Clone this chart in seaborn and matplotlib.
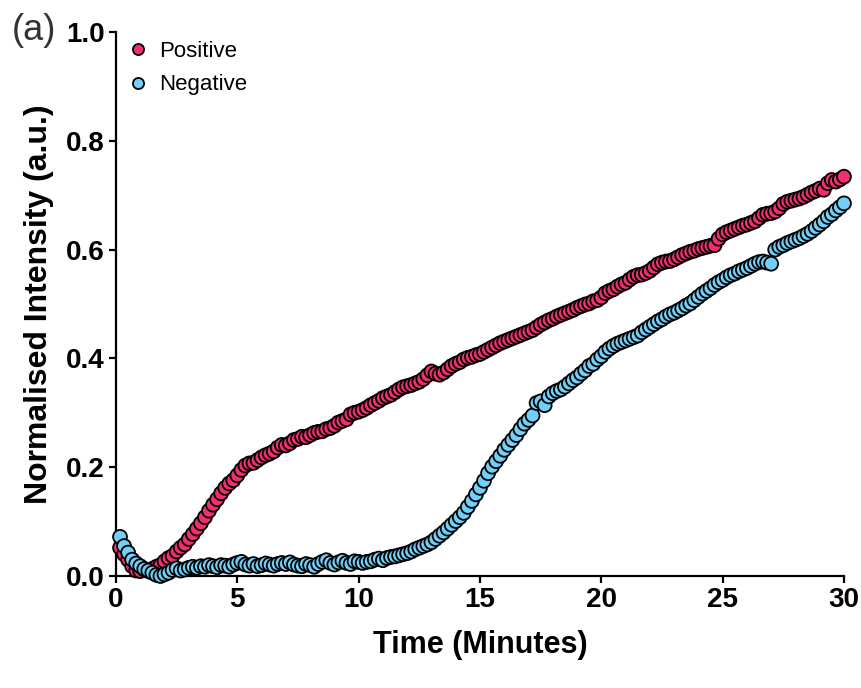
import numpy as np
import pandas as pd
import matplotlib
matplotlib.use("Agg")
import matplotlib.pyplot as plt
import seaborn as sns

# =============================
# Dados
# =============================
# tempo de amostragem em segundos (1 ponto a cada 10 s)
seconds = [
    10, 20, 30, 40, 50, 60, 70, 80, 90, 100, 110, 120, 130, 140, 150, 160, 170, 180,
    190, 200, 210, 220, 230, 240, 250, 260, 270, 280, 290, 300, 310, 320, 330, 340, 350, 360,
    370, 380, 390, 400, 410, 420, 430, 440, 450, 460, 470, 480, 490, 500, 510, 520, 530, 540,
    550, 560, 570, 580, 590, 600, 610, 620, 630, 640, 650, 660, 670, 680, 690, 700, 710, 720,
    730, 740, 750, 760, 770, 780, 790, 800, 810, 820, 830, 840, 850, 860, 870, 880, 890, 900,
    910, 920, 930, 940, 950, 960, 970, 980, 990, 1000, 1010, 1020, 1030, 1040, 1050, 1060, 1070, 1080,
    1090, 1100, 1110, 1120, 1130, 1140, 1150, 1160, 1170, 1180, 1190, 1200, 1210, 1220, 1230, 1240, 1250, 1260,
    1270, 1280, 1290, 1300, 1310, 1320, 1330, 1340, 1350, 1360, 1370, 1380, 1390, 1400, 1410, 1420, 1430, 1440,
    1450, 1460, 1470, 1480, 1490, 1500, 1510, 1520, 1530, 1540, 1550, 1560, 1570, 1580, 1590, 1600, 1610, 1620,
    1630, 1640, 1650, 1660, 1670, 1680, 1690, 1700, 1710, 1720, 1730, 1740, 1750, 1760, 1770, 1780, 1790, 1800,
]

positive = [
    0.052, 0.040, 0.030, 0.018, 0.010, 0.009, 0.012, 0.009, 0.013, 0.017, 0.020, 0.027,
    0.033, 0.037, 0.045, 0.052, 0.058, 0.068, 0.077, 0.087, 0.097, 0.108, 0.120, 0.131,
    0.141, 0.152, 0.162, 0.170, 0.176, 0.185, 0.195, 0.203, 0.207, 0.208, 0.213, 0.218,
    0.222, 0.225, 0.229, 0.236, 0.241, 0.240, 0.244, 0.250, 0.252, 0.256, 0.255, 0.259,
    0.263, 0.265, 0.266, 0.270, 0.272, 0.276, 0.282, 0.285, 0.288, 0.297, 0.300, 0.302,
    0.305, 0.309, 0.314, 0.318, 0.322, 0.327, 0.330, 0.333, 0.338, 0.343, 0.347, 0.349,
    0.351, 0.354, 0.357, 0.362, 0.369, 0.376, 0.372, 0.370, 0.374, 0.380, 0.386, 0.390,
    0.393, 0.398, 0.401, 0.403, 0.406, 0.408, 0.412, 0.416, 0.420, 0.424, 0.428, 0.431,
    0.434, 0.437, 0.440, 0.443, 0.446, 0.449, 0.452, 0.457, 0.462, 0.466, 0.470, 0.473,
    0.477, 0.480, 0.483, 0.486, 0.489, 0.493, 0.496, 0.499, 0.501, 0.505, 0.507, 0.512,
    0.520, 0.524, 0.527, 0.532, 0.536, 0.539, 0.545, 0.550, 0.553, 0.554, 0.557, 0.561,
    0.567, 0.573, 0.576, 0.578, 0.579, 0.582, 0.586, 0.590, 0.593, 0.596, 0.598, 0.601,
    0.603, 0.605, 0.607, 0.608, 0.620, 0.628, 0.632, 0.635, 0.638, 0.641, 0.644, 0.646,
    0.649, 0.652, 0.658, 0.664, 0.666, 0.667, 0.670, 0.676, 0.684, 0.688, 0.690, 0.692,
    0.694, 0.697, 0.701, 0.705, 0.708, 0.712, 0.710, 0.722, 0.728, 0.725, 0.729, 0.734,
]

negative = [
    0.072, 0.055, 0.043, 0.030, 0.023, 0.018, 0.013, 0.010, 0.006, 0.002, 0.000, 0.003,
    0.006, 0.011, 0.014, 0.010, 0.012, 0.015, 0.017, 0.015, 0.018, 0.017, 0.020, 0.018,
    0.016, 0.020, 0.019, 0.017, 0.021, 0.024, 0.026, 0.021, 0.019, 0.022, 0.018, 0.020,
    0.023, 0.021, 0.019, 0.022, 0.024, 0.022, 0.025, 0.021, 0.019, 0.018, 0.022, 0.020,
    0.017, 0.022, 0.026, 0.029, 0.024, 0.021, 0.025, 0.028, 0.024, 0.022, 0.027, 0.026,
    0.024, 0.026, 0.027, 0.030, 0.032, 0.029, 0.033, 0.035, 0.036, 0.038, 0.040, 0.042,
    0.045, 0.049, 0.052, 0.055, 0.058, 0.062, 0.068, 0.074, 0.080, 0.087, 0.094, 0.101,
    0.108, 0.116, 0.127, 0.138, 0.150, 0.162, 0.175, 0.189, 0.201, 0.211, 0.221, 0.232,
    0.241, 0.250, 0.259, 0.270, 0.280, 0.287, 0.295, 0.318, 0.321, 0.314, 0.330, 0.336,
    0.340, 0.343, 0.348, 0.354, 0.360, 0.365, 0.372, 0.378, 0.386, 0.390, 0.398, 0.404,
    0.412, 0.418, 0.423, 0.427, 0.430, 0.433, 0.436, 0.439, 0.442, 0.448, 0.453, 0.458,
    0.463, 0.468, 0.472, 0.477, 0.481, 0.484, 0.488, 0.492, 0.497, 0.501, 0.507, 0.513,
    0.519, 0.524, 0.529, 0.535, 0.540, 0.544, 0.549, 0.553, 0.556, 0.560, 0.563, 0.566,
    0.570, 0.574, 0.577, 0.578, 0.576, 0.574, 0.600, 0.605, 0.608, 0.612, 0.615, 0.618,
    0.621, 0.625, 0.629, 0.634, 0.640, 0.646, 0.652, 0.660, 0.665, 0.672, 0.678, 0.685,
]

series_names = ["Positive", "Negative"]
colors = ["#F22E6E", "#72D0F8"]
x_ticks = [0, 5, 10, 15, 20, 25, 30]
y_ticks = [0.0, 0.2, 0.4, 0.6, 0.8, 1.0]

minutes = np.array(seconds) / 60.0
df = pd.concat([
    pd.DataFrame({"time": minutes, "intensity": positive, "sample": series_names[0]}),
    pd.DataFrame({"time": minutes, "intensity": negative, "sample": series_names[1]}),
])

# =============================
# Estilo
# =============================
sns.set_style("ticks")
plt.rcParams["font.family"] = ["Liberation Sans", "DejaVu Sans"]
plt.rcParams["text.color"] = "black"
plt.rcParams["axes.labelcolor"] = "black"

fig = plt.figure(figsize=(8.61, 6.88), dpi=100)
ax = fig.add_axes([0.1347, 0.1628, 0.8455, 0.7907])

sns.scatterplot(
    data=df, x="time", y="intensity", hue="sample",
    hue_order=series_names, palette=colors,
    s=100, edgecolor="black", linewidth=1.3,
    clip_on=False, zorder=3, ax=ax,
)

ax.set_xlim(0, 30)
ax.set_ylim(0, 1.0)
ax.set_xticks(x_ticks)
ax.set_yticks(y_ticks)
ax.set_xticklabels([str(t) for t in x_ticks])
ax.set_yticklabels([f"{t:.1f}" for t in y_ticks])

for side in ["top", "right"]:
    ax.spines[side].set_visible(False)
for side in ["left", "bottom"]:
    ax.spines[side].set_linewidth(1.6)
    ax.spines[side].set_color("black")

ax.tick_params(axis="both", direction="out", length=5, width=1.6,
               labelsize=20, colors="black", pad=3)
for lab in ax.get_xticklabels() + ax.get_yticklabels():
    lab.set_fontweight("bold")

ax.set_xlabel("Time (Minutes)", fontsize=22, fontweight="bold", labelpad=12)
ax.set_ylabel("Normalised Intensity (a.u.)", fontsize=23, fontweight="bold", labelpad=9)

leg = ax.legend(loc="upper left", bbox_to_anchor=(-0.02, 1.02), frameon=False,
                fontsize=16, markerscale=0.8, handlelength=1.5, handletextpad=0.2,
                labelspacing=0.55)
for t in leg.get_texts():
    t.set_color("black")

fig.text(0.039, 0.955, "(a)", fontsize=26, color="#333333", ha="center", va="center")

fig.savefig("out.png", dpi=100)
